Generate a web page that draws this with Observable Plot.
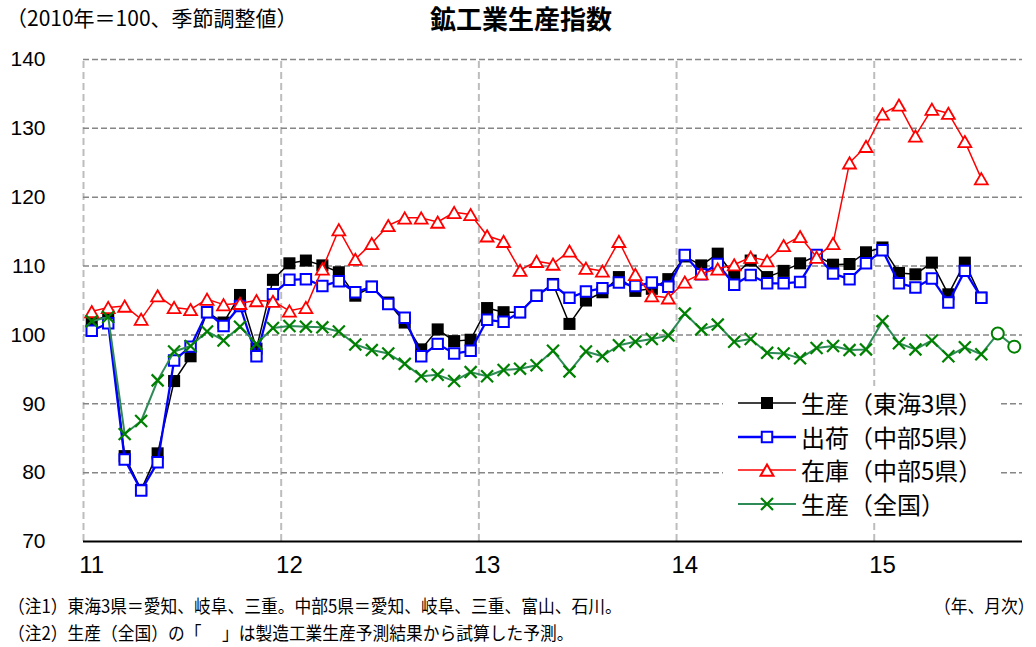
<!DOCTYPE html>
<html lang="ja">
<head>
<meta charset="utf-8">
<script src="https://cdn.jsdelivr.net/npm/d3@7"></script>
<script src="https://cdn.jsdelivr.net/npm/@observablehq/plot@0.6"></script>
<style>
  body { margin: 0; background: #fff; }
  #wrap { position: relative; width: 1036px; height: 647px; overflow: hidden; background: #fff;
          font-family: "Noto Sans CJK JP", "Liberation Sans", sans-serif; color: #000; }
  #sub { position: absolute; left: 6px; top: 3px; font-size: 21px; line-height: 28px; white-space: nowrap; }
  #title { position: absolute; left: 430px; top: 2px; font-size: 26px; font-weight: bold; line-height: 32px; white-space: nowrap; }
  #chart { position: absolute; left: 0; top: 40px; }
  #legend { position: absolute; left: 723px; top: 386px; width: 278px; height: 134px; background: #fff; }
  .row { position: absolute; left: 0; height: 30px; display: flex; align-items: center; }
  .row svg { margin-left: 14px; }
  .row span { margin-left: 4px; font-size: 24px; line-height: 30px; white-space: nowrap; }
  .note { position: absolute; font-size: 18px; line-height: 24px; white-space: nowrap; transform-origin: left center; transform: scaleX(0.93); }
</style>
</head>
<body>
<div id="wrap">
  <div id="sub">（2010年＝100、季節調整値）</div>
  <div id="title">鉱工業生産指数</div>
  <div id="chart"></div>
  <div id="legend"></div>
  <div class="note" style="left:8px; top:593px;">（注1）東海3県＝愛知、岐阜、三重。中部5県＝愛知、岐阜、三重、富山、石川。</div>
  <div class="note" style="left:8px; top:620px;">（注2）生産（全国）の「　 」は製造工業生産予測結果から試算した予測。</div>
  <div class="note" style="left:934px; top:593px;">（年、月次）</div>
</div>
<script>
// Month index 0 = 2011年1月
const yearLabels = ["11", "12", "13", "14", "15"];
const yTicks = [70, 80, 90, 100, 110, 120, 130, 140];

// 生産（東海3県）
const prodTokai = [102.0, 102.8, 82.4, 77.5, 82.8, 93.3, 96.9, 103.3, 101.8, 105.8, 98.0, 108.0,
  110.4, 110.8, 110.1, 109.1, 105.7, 107.0, 104.7, 101.8, 97.9, 100.8, 99.1, 99.3,
  103.9, 103.3, 103.3, 105.7, 107.4, 101.6, 105.0, 106.2, 108.4, 106.4, 106.7, 108.1,
  111.4, 110.1, 111.8, 108.6, 110.8, 108.4, 109.3, 110.4, 111.5, 110.2, 110.3, 112.0,
  112.7, 109.0, 108.8, 110.5, 105.9, 110.5, 105.4];
// 出荷（中部5県）
const shipChubu = [100.6, 101.7, 81.9, 77.4, 81.5, 96.3, 98.3, 103.3, 101.3, 104.2, 96.9, 105.9,
  108.0, 108.1, 107.1, 107.8, 106.2, 107.0, 104.5, 102.5, 96.9, 98.7, 97.3, 97.7,
  102.2, 101.9, 103.3, 105.7, 107.3, 105.4, 106.3, 106.8, 107.6, 107.1, 107.6, 107.0,
  111.6, 108.8, 110.3, 107.3, 108.7, 107.5, 107.5, 107.7, 111.6, 108.9, 108.1, 110.4,
  112.3, 107.5, 106.9, 108.2, 104.7, 109.3, 105.4];
// 在庫（中部5県）
const invChubu = [103.4, 104.0, 104.2, 102.3, 105.7, 104.0, 103.7, 105.2, 104.4, 104.6, 105.0, 104.9,
  103.5, 104.0, 109.6, 115.3, 111.0, 113.3, 115.9, 117.0, 117.0, 116.4, 117.8, 117.5,
  114.4, 113.6, 109.4, 110.7, 110.3, 112.2, 109.7, 109.3, 113.6, 108.8, 105.7, 105.4,
  107.7, 108.9, 109.6, 110.2, 111.3, 110.8, 113.0, 114.3, 111.3, 113.3, 125.0, 127.4,
  132.1, 133.4, 128.9, 132.8, 132.2, 128.1, 122.7];
// 生産（全国）
const prodJapan = [102.0, 102.6, 85.6, 87.5, 93.4, 97.6, 98.4, 100.5, 99.2, 101.2, 98.7, 101.0,
  101.3, 101.2, 101.1, 100.5, 98.6, 97.8, 97.3, 95.8, 94.0, 94.2, 93.3, 94.6,
  94.0, 94.9, 95.1, 95.6, 97.7, 94.7, 97.6, 96.9, 98.5, 99.0, 99.4, 99.9,
  103.1, 100.8, 101.5, 99.0, 99.4, 97.4, 97.3, 96.6, 98.1, 98.4, 97.8, 97.9,
  102.0, 98.8, 97.9, 99.2, 96.9, 98.2, 97.2];
// 生産（全国）予測（2015年8月・9月）
const forecastIdx = [55, 56];
const forecastVals = [100.2, 98.3];

const toRows = (arr, start = 0) => arr.map((v, k) => ({i: start + k, v}));
const tokai = toRows(prodTokai);
const ship = toRows(shipChubu);
const inv = toRows(invChubu);
const japan = toRows(prodJapan);
const fc = forecastIdx.map((i, k) => ({i, v: forecastVals[k]}));
const fcLine = [japan[japan.length - 1], ...fc];
const yearBounds = yearLabels.map((_, k) => k * 12 - 0.5);
const yearTicks = yearLabels.map((_, k) => k * 12);

const COL = {black: "#000000", blue: "#0000ff", red: "#ff0000", gMark: "#008000", gLine: "#2e8b57"};

const chart = Plot.plot({
  width: 1036,
  height: 550,
  marginTop: 19,
  marginBottom: 49,
  marginLeft: 83,
  marginRight: 14,
  x: {type: "linear", domain: [-0.5, 56.5]},
  y: {domain: [70, 140]},
  style: {fontFamily: "'Liberation Sans', Arial, sans-serif", background: "white", color: "black"},
  marks: [
    Plot.ruleX(yearBounds, {y1: 70, y2: 140, stroke: "#bdbdbd", strokeWidth: 2, strokeDasharray: "7,4"}),
    Plot.ruleY(yTicks.filter(d => d > 70), {stroke: "#868686", strokeWidth: 1.5, strokeDasharray: "6,3"}),
    Plot.ruleY([70], {stroke: "black", strokeWidth: 2}),
    Plot.axisY({ticks: yTicks, tickSize: 0, tickPadding: 38, fontSize: 21, label: null, tickFormat: d => String(d)}),
    Plot.axisX({ticks: yearTicks, tickSize: 0, tickPadding: 14, fontSize: 24, label: null, tickFormat: i => yearLabels[Math.round(i / 12)]}),
    // 生産（東海3県）
    Plot.line(tokai, {x: "i", y: "v", stroke: COL.black, strokeWidth: 1.5}),
    Plot.dot(tokai, {x: "i", y: "v", symbol: "square", r: 6.8, fill: COL.black, stroke: "none"}),
    // 出荷（中部5県）
    Plot.line(ship, {x: "i", y: "v", stroke: COL.blue, strokeWidth: 2.3}),
    Plot.dot(ship, {x: "i", y: "v", symbol: "square", r: 5.9, fill: "white", stroke: COL.blue, strokeWidth: 2}),
    // 在庫（中部5県）
    Plot.line(inv, {x: "i", y: "v", stroke: COL.red, strokeWidth: 1.5}),
    Plot.dot(inv, {x: "i", y: "v", symbol: "triangle", r: 4.8, dy: 2, fill: "white", stroke: COL.red, strokeWidth: 1.8}),
    // 生産（全国）
    Plot.line(japan, {x: "i", y: "v", stroke: COL.gLine, strokeWidth: 2}),
    Plot.line(fcLine, {x: "i", y: "v", stroke: COL.gLine, strokeWidth: 2}),
    Plot.dot(japan, {x: "i", y: "v", symbol: "times", r: 5.5, stroke: COL.gMark, strokeWidth: 2.2}),
    Plot.dot(fc, {x: "i", y: "v", symbol: "circle", r: 6, fill: "white", stroke: COL.gMark, strokeWidth: 2})
  ]
});
document.getElementById("chart").appendChild(chart);

// Legend
const legendItems = [
  {label: "生産（東海3県）", line: COL.black, lw: 1.5, sym: "square", fill: COL.black, stroke: "none", r: 6.8},
  {label: "出荷（中部5県）", line: COL.blue, lw: 2.3, sym: "square", fill: "white", stroke: COL.blue, r: 5.9},
  {label: "在庫（中部5県）", line: COL.red, lw: 1.5, sym: "triangle", fill: "white", stroke: COL.red, r: 4.8},
  {label: "生産（全国）", line: COL.gLine, lw: 2, sym: "times", fill: "none", stroke: COL.gMark, r: 5.5}
];
const symMap = {square: d3.symbolSquare, triangle: d3.symbolTriangle, times: d3.symbolTimes};
const legend = d3.select("#legend");
legendItems.forEach((it, k) => {
  const row = legend.append("div").attr("class", "row").style("top", (2 + k * 33.7) + "px");
  const svg = row.append("svg").attr("width", 60).attr("height", 30);
  svg.append("line").attr("x1", 1).attr("x2", 59).attr("y1", 15).attr("y2", 15)
    .attr("stroke", it.line).attr("stroke-width", it.lw);
  svg.append("path")
    .attr("d", d3.symbol(symMap[it.sym], Math.PI * it.r * it.r)())
    .attr("transform", `translate(30,${it.sym === "triangle" ? 17 : 15})`)
    .attr("fill", it.fill).attr("stroke", it.stroke).attr("stroke-width", it.sym === "times" ? 2.2 : 2);
  row.append("span").text(it.label);
});
</script>
</body>
</html>
